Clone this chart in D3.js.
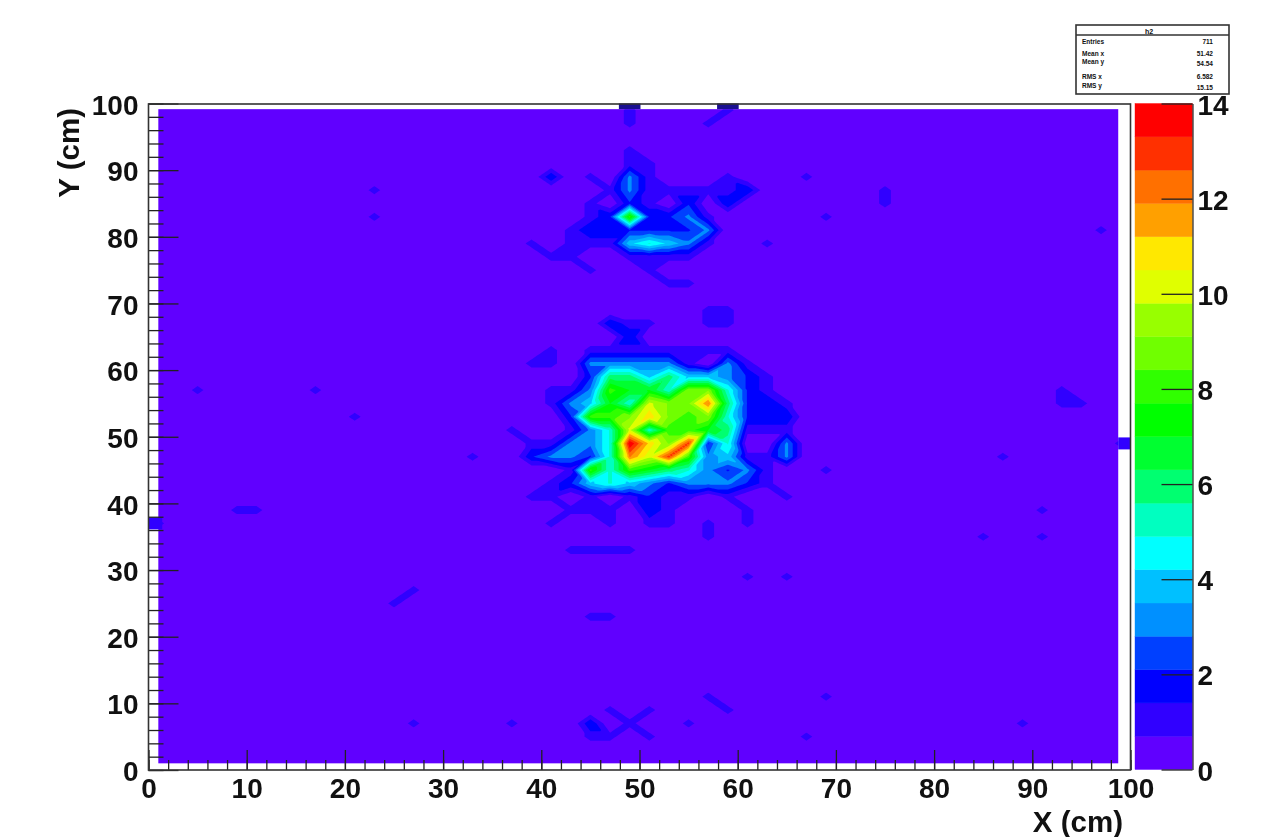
<!DOCTYPE html>
<html>
<head>
<meta charset="utf-8">
<script src="https://cdn.jsdelivr.net/npm/d3@7"></script>
<style>
    html, body { margin: 0; padding: 0; background: #fff; }
    svg { display: block; filter: blur(0.55px); }
    text { font-family: "Liberation Sans", Arial, sans-serif; font-weight: bold; fill: #111; }
</style>
</head>
<body>
<div id="chart"></div>
<script>
"use strict"

// bin counts of the 50x50 histogram: [y, first x, counts every 2 cm]
const countRows = [
    [99, 49, [1]], [99, 59, [1]],
    [97, 49, [1]], [97, 57, [1]],
    [93, 49, [1]],
    [91, 49, [1, 1]],
    [89, 41, [2]], [89, 45, [1]], [89, 49, [3, 1]], [89, 59, [1]], [89, 67, [1]],
    [87, 23, [1]], [87, 47, [1, 3, 1, 1, 1, 1, 1, 2]], [87, 75, [1]],
    [85, 45, [1, 0, 2, 1, 0, 2, 0, 2]], [85, 75, [1]],
    [83, 23, [1]], [83, 45, [1, 2, 8, 2, 2, 3, 1]], [83, 69, [1]],
    [81, 43, [1, 2, 2, 2, 2, 2, 2, 3]], [81, 97, [1]],
    [79, 39, [1]], [79, 43, [1, 1, 1, 4, 5, 4, 3, 1]], [79, 63, [1]],
    [77, 41, [1, 1]], [77, 49, [1, 1, 1, 1]],
    [75, 45, [1]], [75, 51, [1]],
    [73, 53, [1, 1]],
    [69, 57, [1, 1]],
    [67, 47, [2, 1, 1]], [67, 57, [1, 1]],
    [65, 49, [2]],
    [63, 41, [1]], [63, 45, [1, 1, 1, 1, 1, 1]], [63, 57, [1, 1]],
    [61, 39, [1, 1, 0, 3, 3, 3, 3, 3, 1, 0, 3, 1]],
    [59, 45, [2, 6, 6, 4, 6, 4, 4, 3, 2, 1]],
    [57, 5, [1]], [57, 17, [1]], [57, 41, [1, 1, 3, 8, 7, 7, 5, 9, 9, 5, 2, 1]], [57, 93, [1]],
    [55, 41, [1, 3, 4, 7, 5, 10, 9, 9, 12, 6, 2, 2, 1]], [55, 93, [1, 1]],
    [53, 21, [1]], [53, 43, [2, 8, 8, 9, 11, 9, 8, 9, 5, 2, 2, 2]],
    [51, 37, [1]], [51, 43, [1, 3, 5, 10, 5, 8, 8, 7, 6, 1, 1, 1]],
    [49, 39, [1, 1, 3, 3, 5, 14, 11, 9, 13, 2, 5, 0, 0, 3]], [49, 99, [1]],
    [47, 33, [1]], [47, 39, [2, 3, 3, 2, 5, 12, 10, 13, 8, 3, 4, 1, 1, 3]], [47, 87, [1]],
    [45, 43, [1, 8, 5, 8, 7, 6, 5, 3, 2, 3, 1]], [45, 69, [1]],
    [43, 41, [1, 2, 4, 5, 4, 3, 2, 3, 3, 3, 2, 1]],
    [41, 39, [1, 1, 0, 1, 0, 1, 2, 1, 1, 0, 1, 0, 0, 1]],
    [39, 9, [1, 1]], [39, 43, [1, 1, 1, 0, 2, 1, 0, 0, 0, 1]], [39, 91, [1]],
    [37, 1, [1]], [37, 41, [1]], [37, 47, [1]], [37, 51, [1, 1]], [37, 57, [1]], [37, 61, [1]],
    [35, 57, [1]], [35, 85, [1]], [35, 91, [1]],
    [33, 43, [1, 1, 1, 1]],
    [29, 61, [1]], [29, 65, [1]],
    [27, 27, [1]],
    [25, 25, [1]],
    [23, 45, [1, 1]],
    [11, 57, [1]], [11, 69, [1]],
    [9, 47, [1]], [9, 51, [1]], [9, 59, [1]],
    [7, 27, [1]], [7, 37, [1]], [7, 45, [2, 0, 1]], [7, 55, [1]], [7, 89, [1]],
    [5, 45, [1, 1]], [5, 51, [1]], [5, 67, [1]]
];

const nBins = 50;
const levelStep = 0.7;

// edge bins that spill out into the white margin
const edgeTopX = [49, 59];
const edgeLeftY = [37];
const edgeRightY = [49];

const axisTicks = [0, 10, 20, 30, 40, 50, 60, 70, 80, 90, 100];
const minorTicks = d3.range(0, 101, 2);
const zTicks = [0, 2, 4, 6, 8, 10, 12, 14];

const statLabels = ["Entries", "Mean x", "Mean y", "RMS x", "RMS y"];
const statValues = ["711", "51.42", "54.54", "6.582", "15.15"];

const palette = ["#6000ff", "#3000ff", "#0000ff", "#0040ff", "#0090ff", "#00c0ff", "#00ffff",
    "#00ffc0", "#00ff70", "#00ff30", "#00ff00", "#30ff00", "#70ff00", "#98ff00", "#e0ff00",
    "#ffe800", "#ffa000", "#ff7000", "#ff3000", "#ff0000"];

const svg = d3.select("#chart").append("svg")
    .attr("width", 1273)
    .attr("height", 837);

const x = d3.scaleLinear().domain([0, 100]).range([148.5, 1130.5]);
const y = d3.scaleLinear().domain([0, 100]).range([770, 103.5]);
const z = d3.scaleLinear().domain([0, 14]).range([769.5, 103.5]);

drawContours();
drawEdgeBins();
drawAxes();
drawPalette();
drawStats();

function countGrid() {
    let values = new Array(nBins * nBins).fill(0);
    for (let [rowY, firstX, counts] of countRows) {
        counts.forEach(function(c, k) {
            let col = (firstX - 1) / 2 + k;
            values[(rowY - 1) / 2 * nBins + col] = c;
        });
    }
    return values;
}

/* resample the bins so that each cell is cut into two triangles, along the diagonal with the
   flattest ends (the higher one on a tie). lone bins stay diamonds and diagonal ridges stay connected */
function triangulatedGrid(values, sub) {
    let n = (nBins - 1) * sub + 1;
    let out = new Float64Array(n * n);
    for (let j = 0; j < n; j++) {
        for (let i = 0; i < n; i++) {
            let ci = Math.min(Math.floor(i / sub), nBins - 2);
            let cj = Math.min(Math.floor(j / sub), nBins - 2);
            let u = i / sub - ci;
            let v = j / sub - cj;
            let a = values[cj * nBins + ci];
            let b = values[cj * nBins + ci + 1];
            let c = values[(cj + 1) * nBins + ci];
            let d = values[(cj + 1) * nBins + ci + 1];
            let diffAD = Math.abs(a - d);
            let diffBC = Math.abs(b - c);
            let h;
            if (diffAD < diffBC || (diffAD == diffBC && a + d >= b + c)) {
                h = u >= v ? a + u * (b - a) + v * (d - b) : a + v * (c - a) + u * (d - c);
            } else {
                h = u + v <= 1 ? a + u * (b - a) + v * (c - a) : d + (1 - u) * (c - d) + (1 - v) * (b - d);
            }
            out[j * n + i] = h;
        }
    }
    return {n: n, values: out};
}

/* filled contours between the bin centres */
function drawContours() {
    let sub = 8;
    let grid = triangulatedGrid(countGrid(), sub);
    let thresholds = d3.range(1, palette.length).map(k => k * levelStep);
    let contours = d3.contours()
        .size([grid.n, grid.n])
        .thresholds(thresholds)(grid.values);

    // contour coordinate c + 0.5 sits on fine grid node c, node 0 is the bin centre at 1 cm
    let path = d3.geoPath(d3.geoTransform({
        point: function(px, py) {
            this.stream.point(x(1 + (px - 0.5) * 2 / sub), y(1 + (py - 0.5) * 2 / sub));
        }
    }));

    let fillX0 = x(1), fillX1 = x(98.75), fillY0 = y(99.15), fillY1 = y(1);

    svg.append("clipPath").attr("id", "fillClip")
        .append("rect")
        .attr("x", fillX0)
        .attr("y", fillY0)
        .attr("width", fillX1 - fillX0)
        .attr("height", fillY1 - fillY0);

    svg.append("rect")
        .attr("x", fillX0)
        .attr("y", fillY0)
        .attr("width", fillX1 - fillX0)
        .attr("height", fillY1 - fillY0)
        .style("fill", palette[0]);

    svg.append("g")
        .attr("clip-path", "url(#fillClip)")
        .selectAll("path")
        .data(contours)
        .join("path")
        .attr("d", path)
        .style("fill", (d, i) => palette[i + 1])
        .style("stroke", "none");
}

function drawEdgeBins() {
    svg.selectAll(".edgeTop").data(edgeTopX).join("rect")
        .attr("class", "edgeTop")
        .attr("x", d => x(d - 1.1))
        .attr("y", y(100))
        .attr("width", x(2.2) - x(0))
        .attr("height", y(99.15) - y(100))
        .style("fill", "#1a1090");

    svg.selectAll(".edgeLeft").data(edgeLeftY).join("rect")
        .attr("class", "edgeLeft")
        .attr("x", x(0))
        .attr("y", d => y(d + 0.9))
        .attr("width", x(1.4) - x(0))
        .attr("height", y(0) - y(1.8))
        .style("fill", palette[1]);

    svg.selectAll(".edgeRight").data(edgeRightY).join("rect")
        .attr("class", "edgeRight")
        .attr("x", x(98.75))
        .attr("y", d => y(d + 0.9))
        .attr("width", x(100) - x(98.75))
        .attr("height", y(0) - y(1.8))
        .style("fill", palette[1]);
}

function styleAxis(g) {
    g.selectAll(".domain").remove();
    g.selectAll("line").style("stroke", "#222").style("stroke-width", "1.3px");
    g.selectAll("text").style("font-size", "28px");
}

function drawAxes() {
    svg.append("g")
        .attr("transform", "translate(0," + y(0) + ")")
        .call(d3.axisBottom(x).tickValues(minorTicks).tickSize(-10).tickFormat(""))
        .call(styleAxis);
    svg.append("g")
        .attr("transform", "translate(0," + y(0) + ")")
        .call(d3.axisBottom(x).tickValues(axisTicks).tickSize(-20).tickPadding(8).tickFormat(d3.format("d")))
        .call(styleAxis);

    svg.append("g")
        .attr("transform", "translate(" + x(0) + ",0)")
        .call(d3.axisLeft(y).tickValues(minorTicks).tickSize(-15).tickFormat(""))
        .call(styleAxis);
    svg.append("g")
        .attr("transform", "translate(" + x(0) + ",0)")
        .call(d3.axisLeft(y).tickValues(axisTicks).tickSize(-30).tickPadding(10).tickFormat(d3.format("d")))
        .call(styleAxis)
        .selectAll("text").attr("dy", "0.38em");

    // frame
    svg.append("rect")
        .attr("x", x(0))
        .attr("y", 104)
        .attr("width", x(100) - x(0))
        .attr("height", y(0) - 104)
        .style("fill", "none")
        .style("stroke", "#333")
        .style("stroke-width", "1.6px");

    svg.append("text")
        .attr("x", 1123)
        .attr("y", 832)
        .attr("text-anchor", "end")
        .style("font-size", "29.5px")
        .text("X (cm)");

    svg.append("text")
        .attr("transform", "translate(79,108) rotate(-90)")
        .attr("text-anchor", "end")
        .style("font-size", "29.5px")
        .text("Y (cm)");
}

function drawPalette() {
    svg.selectAll(".band").data(palette).join("rect")
        .attr("class", "band")
        .attr("x", 1135)
        .attr("y", (d, i) => z((i + 1) * levelStep))
        .attr("width", 57.5)
        .attr("height", (d, i) => z(i * levelStep) - z((i + 1) * levelStep))
        .style("fill", d => d)
        .style("stroke", d => d)
        .style("stroke-width", "0.4px");

    let g = svg.append("g")
        .attr("transform", "translate(1192.5,0)")
        .call(d3.axisRight(z).tickValues(zTicks).tickSize(-31).tickSizeOuter(0).tickPadding(5).tickFormat(d3.format("d")));
    g.selectAll("line").style("stroke", "#222").style("stroke-width", "1.3px");
    g.select(".domain").style("stroke", "#333").style("stroke-width", "1.3px");
    g.selectAll("text").style("font-size", "28px").attr("dy", "0.38em");
}

function drawStats() {
    let rowY = [44, 56, 64, 79, 88];
    let box = svg.append("g");

    box.append("rect")
        .attr("x", 1076)
        .attr("y", 25)
        .attr("width", 153)
        .attr("height", 69)
        .style("fill", "#fff")
        .style("stroke", "#333")
        .style("stroke-width", "1.6px");
    box.append("line")
        .attr("x1", 1076)
        .attr("y1", 35)
        .attr("x2", 1229)
        .attr("y2", 35)
        .style("stroke", "#333")
        .style("stroke-width", "1.4px");
    box.append("text")
        .attr("x", 1149)
        .attr("y", 33.5)
        .attr("text-anchor", "middle")
        .style("font-size", "7px")
        .text("h2");

    statLabels.forEach(function(label, i) {
        box.append("text")
            .attr("x", 1082)
            .attr("y", rowY[i])
            .style("font-size", "6.5px")
            .text(label);
        box.append("text")
            .attr("x", 1213)
            .attr("y", rowY[i] + (i == 2 || i == 4 ? 2 : 0))
            .attr("text-anchor", "end")
            .style("font-size", "6.5px")
            .text(statValues[i]);
    });
}
</script>
</body>
</html>
